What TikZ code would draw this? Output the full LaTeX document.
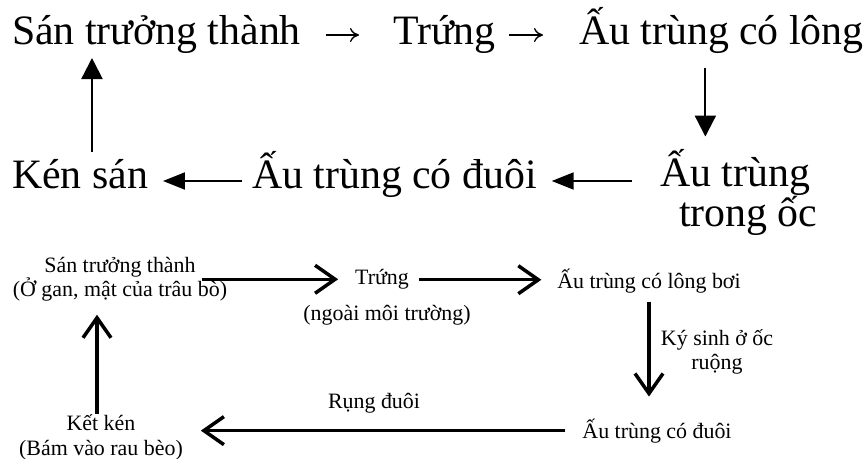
\documentclass[tikz,border=0pt]{standalone}
\usepackage{fontspec}
\setmainfont{Liberation Serif}
\usetikzlibrary{arrows.meta}
\begin{document}
\begin{tikzpicture}[x=1bp,y=-1bp,
  every node/.style={inner sep=0pt, outer sep=0pt},
  big/.style={font=\fontsize{42}{39}\selectfont, anchor=base west},
  small/.style={font=\fontsize{22}{25}\selectfont, anchor=base, align=center},
  glyarrow/.style={line width=1.3bp, -{Computer Modern Rightarrow[length=9bp,width=14bp]}},
  triarrow/.style={line width=2.2bp, -{Triangle[length=21bp,width=21bp]}},
  trihoriz/.style={line width=2bp, -{Triangle[length=22bp,width=17bp]}},
  barb/.style={line width=3.5bp, -{Straight Barb[length=20bp,width=28bp]}}]
\useasboundingbox (0,0) rectangle (864,459);

% ---------- upper diagram ----------
\node[big] (ta) at (12,45) {Sán trưởng thành};
\node[big] (tb) at (393,45) {Trứng};
\node[big] (tc) at (579,45) {Ấu trùng có lông};
\node[big, align=left] (td) at (660,227) {Ấu trùng\\\hspace*{19bp}trong ốc};
\node[big] (te) at (252,189) {Ấu trùng có đuôi};
\node[big] (tf) at (12,189) {Kén sán};

\draw[glyarrow, shorten <=25bp, shorten >=34bp] ([yshift=10bp]ta.base east) -- ([yshift=10bp]tb.base west);
\draw[glyarrow, shorten <=13bp, shorten >=36bp] ([yshift=10bp]tb.base east) -- ([yshift=10bp]tc.base west);
\draw[triarrow, shorten <=14bp, shorten >=13bp] ([xshift=-16bp]tc.south) -- ([xshift=-16bp]tc.south |- td.north);
\draw[trihoriz, shorten <=28bp, shorten >=15bp] ([yshift=8bp]te.base east -| td.west) -- ([yshift=8bp]te.base east);
\draw[trihoriz, shorten <=10bp, shorten >=15bp] ([yshift=8bp]te.base west) -- ([yshift=8bp]tf.base east);
\draw[triarrow, shorten <=8bp, shorten >=4bp] ([xshift=12bp]tf.north) -- ([xshift=12bp]tf.north |- ta.south);

% ---------- lower diagram ----------
\node[small] (adult) at (120,297) {Sán trưởng thành\\(Ở gan, mật của trâu bò)};
\node[small] (egg) at (382,285) {Trứng};
\node[small] (eggnote) at (387,321) {(ngoài môi trường)};
\node[small] (larva) at (649,289) {Ấu trùng có lông bơi};
\node[small] (snail) at (717,370) {Ký sinh ở ốc\\ruộng};
\node[small] (tail) at (657,438) {Ấu trùng có đuôi};
\node[small] (drop) at (374,408) {Rụng đuôi};
\node[small] (cyst) at (101,455) {Kết kén\\(Bám vào rau bèo)};

\draw[barb, shorten <=-25bp, shorten >=17bp] (adult.east) -- (adult.east -| egg.west);
\draw[barb, shorten <=10bp, shorten >=16bp] (egg.east) -- (egg.east -| larva.west);
\draw[barb, shorten <=8bp, shorten >=22bp] (larva.south) -- (larva.south |- tail.north);
\draw[barb, shorten <=17bp, shorten >=18bp] (tail.west) -- (tail.west -| cyst.east);
\draw[barb, shorten <=0bp, shorten >=13bp] ([xshift=-4bp]cyst.north) -- ([xshift=-4bp]cyst.north |- adult.south);
\end{tikzpicture}
\end{document}
